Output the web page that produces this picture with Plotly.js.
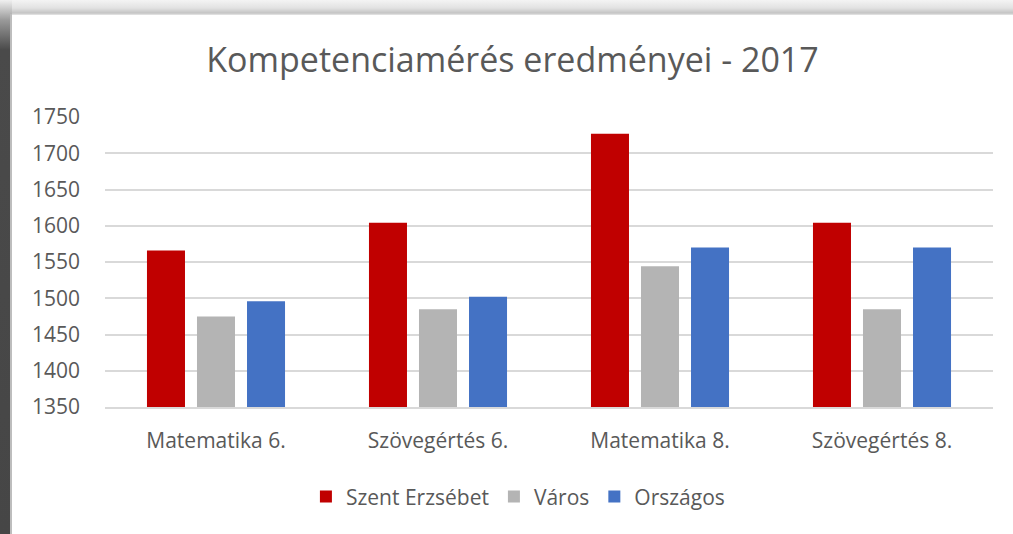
<!DOCTYPE html>
<html>
<head>
<meta charset="utf-8">
<script src="https://cdn.plot.ly/plotly-3.0.1.min.js"></script>
<style>
  html, body { margin: 0; padding: 0; width: 1013px; height: 534px; overflow: hidden; background: #fff; }
  #topband { position: absolute; left: 0; top: 0; width: 1013px; height: 16px;
    background: linear-gradient(to bottom, #f4f4f4 0px, #e2e2e2 8px, #c4c4c4 13px, #e8e8e8 15px, #ffffff 16px); }
  #leftband { position: absolute; left: 0; top: 0; width: 12px; height: 534px;
    background: linear-gradient(to bottom, #f0f0f0 0px, #9a9a9a 20px, #4a4a4a 50px, #464646 100%); }
  #leftedge { position: absolute; left: 10px; top: 14px; width: 2px; height: 520px; background: #bdbdbd; }
  #chart { position: absolute; left: 12px; top: 15px; width: 1001px; height: 519px; }
</style>
</head>
<body>
<div id="topband"></div>
<div id="leftband"></div>
<div id="leftedge"></div>
<div id="chart"></div>
<script>
const categories = ["Matematika 6.", "Szövegértés 6.", "Matematika 8.", "Szövegértés 8."];
const seriesNames = ["Szent Erzsébet", "Város", "Országos"];
const szentErzsebet = [1566, 1604, 1727, 1604];
const varos = [1475, 1485, 1544, 1485];
const orszagos = [1496, 1502, 1570, 1570];
const colors = ["#C00000", "#B4B4B4", "#4472C4"];
const yTicks = [1350, 1400, 1450, 1500, 1550, 1600, 1650, 1700, 1750];

const values = [szentErzsebet, varos, orszagos];
const traces = values.map((v, i) => ({
  type: "bar",
  name: seriesNames[i],
  x: categories,
  y: v,
  marker: { color: colors[i] },
  hoverinfo: "none"
}));

const font = "'Open Sans', sans-serif";
const layout = {
  width: 1001, height: 519,
  margin: { l: 93, r: 20, t: 102, b: 127 },
  paper_bgcolor: "#ffffff",
  plot_bgcolor: "#ffffff",
  title: { text: "Kompetenciamérés eredményei - 2017", font: { family: font, size: 34, color: "#595959" },
           x: 0.5, xanchor: "center", y: 1 - 45 / 519, yanchor: "middle", yref: "container" },
  barmode: "group",
  bargap: 0.324,
  bargroupgap: 0.24,
  xaxis: { type: "category", tickfont: { family: font, size: 21, color: "#595959" },
           showline: true, linecolor: "#d9d9d9", linewidth: 2, ticks: "", ticklen: 0,
           ticklabelstandoff: 14, automargin: false },
  yaxis: { range: [1350, 1750], tickvals: yTicks, ticktext: yTicks.map(String),
           tickfont: { family: font, size: 21, color: "#595959" },
           gridcolor: "#d9d9d9", gridwidth: 2, zeroline: false, showline: false, ticks: "",
           ticklabelstandoff: 24, automargin: false },
  showlegend: true,
  legend: { orientation: "h", x: 0.465, xanchor: "center", y: -0.31, yanchor: "middle",
            font: { family: font, size: 21, color: "#595959" }, itemwidth: 30, traceorder: "normal" }
};
Plotly.newPlot("chart", traces, layout, { displayModeBar: false, staticPlot: true });
</script>
</body>
</html>
